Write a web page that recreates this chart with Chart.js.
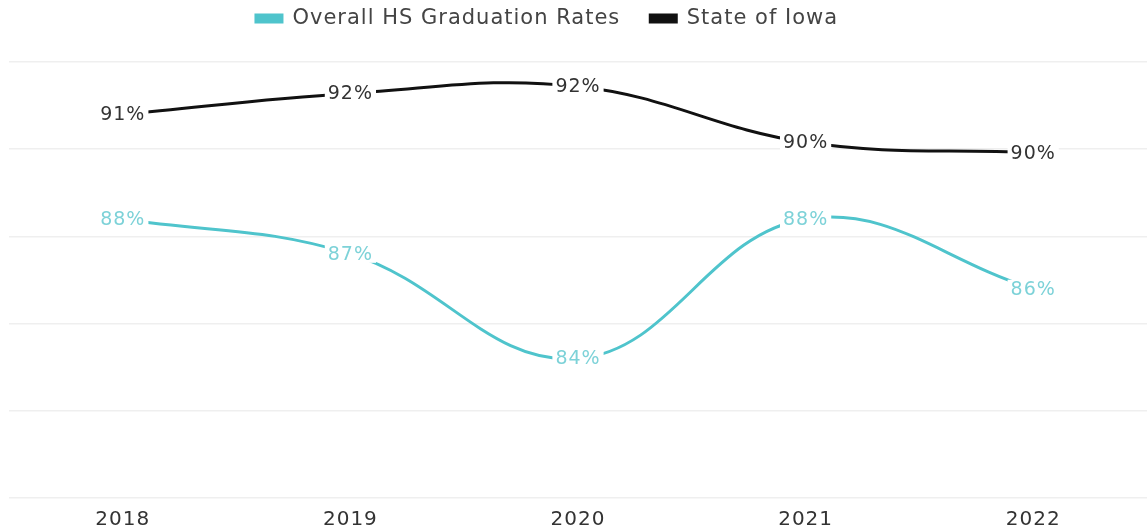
<!DOCTYPE html>
<html>
<head>
<meta charset="utf-8">
<script src="https://cdn.jsdelivr.net/npm/chart.js@4"></script>
<style>
  html, body { margin: 0; padding: 0; background: #fff; }
  #wrap { width: 1147px; height: 531px; }
</style>
</head>
<body>
<div id="wrap"><canvas id="gradChart" width="1147" height="531"></canvas></div>
<script>
const years = ['2018', '2019', '2020', '2021', '2022'];
const districtRates = [88.0, 87.0, 84.0, 88.0, 86.0];
const iowaRates = [91.0, 91.6, 91.8, 90.2, 89.9];
const yTicks = [80, 82.5, 85, 87.5, 90, 92.5];

// the source picture has wide, slightly spaced lettering
const spacing = {
  id: 'spacing',
  beforeLayout(chart) { chart.ctx.letterSpacing = '1px'; },
  beforeDraw(chart) { chart.ctx.letterSpacing = '1px'; }
};

// draws the "88%" style labels on top of each point, with a white box behind
const pointLabels = {
  id: 'pointLabels',
  afterDatasetsDraw(chart) {
    const ctx = chart.ctx;
    ctx.save();
    ctx.font = '19px "DejaVu Sans"';
    ctx.textAlign = 'center';
    ctx.textBaseline = 'middle';
    chart.data.datasets.forEach((ds, i) => {
      chart.getDatasetMeta(i).data.forEach((pt, j) => {
        const txt = Math.round(ds.data[j]) + '%';
        const w = ctx.measureText(txt).width;
        ctx.fillStyle = '#fff';
        ctx.fillRect(pt.x - w / 2 - 3, pt.y - 9, w + 6, 18);
        ctx.fillStyle = ds.labelColor;
        ctx.fillText(txt, pt.x, pt.y + 1);
      });
    });
    ctx.restore();
  }
};

// legend: leave room below it, sit it near the top and a bit left of centre
const legendPlace = {
  id: 'legendPlace',
  beforeInit(chart) {
    const fit = chart.legend.fit;
    chart.legend.fit = function () {
      fit.bind(chart.legend)();
      this.height = 62;
    };
  },
  afterLayout(chart) {
    const lg = chart.legend;
    lg.top -= 22;
    lg.bottom -= 22;
    lg.right -= 62;
  }
};

const ctx = document.getElementById('gradChart').getContext('2d');

new Chart(ctx, {
  type: 'line',
  data: {
    labels: years,
    datasets: [
      {
        label: 'Overall HS Graduation Rates',
        data: districtRates,
        borderColor: '#4fc4cc',
        backgroundColor: '#4fc4cc',
        labelColor: '#7dd2d8',
        borderWidth: 3,
        tension: 0.4,
        pointRadius: 0,
        fill: false,
      },
      {
        label: 'State of Iowa',
        data: iowaRates,
        borderColor: '#111',
        backgroundColor: '#111',
        labelColor: '#333',
        borderWidth: 3,
        tension: 0.4,
        pointRadius: 0,
        fill: false,
      },
    ],
  },
  options: {
    responsive: false,
    animation: false,
    layout: {
      padding: { top: 0, left: 9, right: 0, bottom: -11 },
    },
    scales: {
      x: {
        offset: true,
        grid: { display: false, drawTicks: false },
        border: { display: false },
        ticks: {
          color: '#333',
          padding: 10,
          maxRotation: 0,
          font: { family: 'DejaVu Sans', size: 20 },
        },
      },
      y: {
        min: 80,
        max: 92.5,
        afterBuildTicks(axis) {
          axis.ticks = yTicks.map(v => ({ value: v }));
        },
        ticks: { display: false },
        border: { display: false },
        grid: {
          color: '#efefef',
          lineWidth: 1.5,
          drawTicks: false,
        },
      },
    },
    plugins: {
      legend: {
        labels: {
          color: '#444',
          boxWidth: 26,
          boxHeight: 7,
          padding: 30,
          font: { family: 'DejaVu Sans', size: 21 },
        },
      },
      tooltip: { enabled: false },
    },
  },
  plugins: [spacing, pointLabels, legendPlace],
});
</script>
</body>
</html>
